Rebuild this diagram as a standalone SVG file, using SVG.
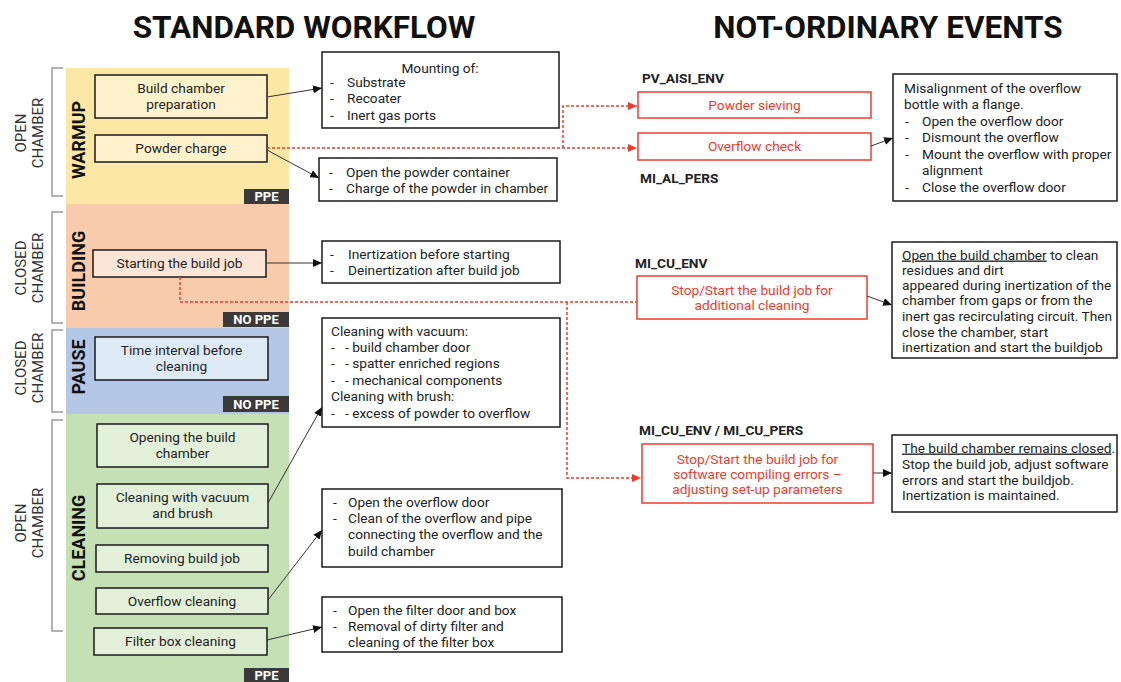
<svg xmlns="http://www.w3.org/2000/svg" width="1121" height="682" viewBox="0 0 1121 682">
<defs>
<style>
text{font-family:Roboto,"Liberation Sans",sans-serif;font-size:13.7px;fill:#222}
.c{text-anchor:middle}
.b{font-weight:bold}
.red{fill:#f03c2f}
.title{font-size:31.5px;font-weight:bold;fill:#111;text-anchor:middle}
.vl{font-size:18px;font-weight:bold;fill:#111;text-anchor:middle}
.side{font-size:15px;fill:#333;text-anchor:middle}
.badge{fill:#3a3a3a}
.bt{fill:#fff;font-weight:bold;text-anchor:middle;font-size:13px}
.box{fill:#fff;stroke:#1a1a1a;stroke-width:1.5}
.rbox{fill:#fff;stroke:#f03c2f;stroke-width:1.5}
.lb{stroke:#1a1a1a;stroke-width:1.5}
.brk{fill:none;stroke:#9a9a9a;stroke-width:1.5}
.conn{fill:none;stroke:#333;stroke-width:1;marker-end:url(#ah)}
.dash{fill:none;stroke:#f03c2f;stroke-width:1.5;stroke-dasharray:3 2}
.u{text-decoration:underline}
</style>
<marker id="ah" markerUnits="userSpaceOnUse" markerWidth="9" markerHeight="8" refX="9" refY="4" orient="auto"><path d="M0,0 L9,4 L0,8 z" fill="#111"/></marker>
<marker id="rah" markerUnits="userSpaceOnUse" markerWidth="9" markerHeight="8" refX="9" refY="4" orient="auto"><path d="M0,0 L9,4 L0,8 z" fill="#f03c2f"/></marker>
</defs>
<rect width="1121" height="682" fill="#fff"/>

<text class="title" x="304" y="38">STANDARD WORKFLOW</text>
<text class="title" x="888" y="38">NOT-ORDINARY EVENTS</text>

<!-- phases -->
<g id="phase-warmup">
<rect x="66" y="68" width="223" height="136" fill="#fde7a4"/>
<text class="vl" transform="translate(78,140) rotate(-90)" dominant-baseline="central">WARMUP</text>
<path class="brk" d="M63,68 H52 V196 H63"/>
<text class="side" transform="translate(21,133) rotate(-90)" dominant-baseline="central">OPEN</text>
<text class="side" transform="translate(38,133) rotate(-90)" dominant-baseline="central">CHAMBER</text>
<rect class="badge" x="244" y="189" width="45" height="15"/><text class="bt" x="266.5" y="201">PPE</text>
</g>
<g id="phase-building">
<rect x="66" y="204" width="223" height="124" fill="#f8cbad"/>
<text class="vl" transform="translate(78,271) rotate(-90)" dominant-baseline="central">BUILDING</text>
<path class="brk" d="M63,212 H52 V323 H63"/>
<text class="side" transform="translate(21,268) rotate(-90)" dominant-baseline="central">CLOSED</text>
<text class="side" transform="translate(38,268) rotate(-90)" dominant-baseline="central">CHAMBER</text>
<rect class="badge" x="223" y="312" width="66" height="15"/><text class="bt" x="256" y="324">NO PPE</text>
</g>
<g id="phase-pause">
<rect x="66" y="328" width="223" height="86" fill="#b4c7e7"/>
<text class="vl" transform="translate(78,367) rotate(-90)" dominant-baseline="central">PAUSE</text>
<path class="brk" d="M63,330 H52 V412 H63"/>
<text class="side" transform="translate(21,368) rotate(-90)" dominant-baseline="central">CLOSED</text>
<text class="side" transform="translate(38,368) rotate(-90)" dominant-baseline="central">CHAMBER</text>
<rect class="badge" x="223" y="396" width="66" height="16"/><text class="bt" x="256" y="408.5">NO PPE</text>
</g>
<g id="phase-cleaning">
<rect x="66" y="414" width="223" height="268" fill="#c5e0b4"/>
<text class="vl" transform="translate(78,538) rotate(-90)" dominant-baseline="central">CLEANING</text>
<path class="brk" d="M63,420 H52 V631 H63"/>
<text class="side" transform="translate(21,523) rotate(-90)" dominant-baseline="central">OPEN</text>
<text class="side" transform="translate(38,523) rotate(-90)" dominant-baseline="central">CHAMBER</text>
<rect class="badge" x="244" y="668" width="45" height="14"/><text class="bt" x="266.5" y="680">PPE</text>
</g>

<!-- left step nodes -->
<g id="n-build-prep"><rect class="lb" x="95" y="75" width="172" height="43" fill="#fff2cc"/><text class="c" x="181" y="92.5">Build chamber</text><text class="c" x="181" y="108.5">preparation</text></g>
<g id="n-powder-charge"><rect class="lb" x="95" y="135" width="172" height="27" fill="#fff2cc"/><text class="c" x="181" y="153">Powder charge</text></g>
<g id="n-start-build"><rect class="lb" x="93" y="250" width="173" height="27" fill="#fbe5d6"/><text class="c" x="179.5" y="268">Starting the build job</text></g>
<g id="n-time-interval"><rect class="lb" x="95" y="337" width="173" height="43" fill="#deebf7"/><text class="c" x="181.5" y="354.5">Time interval before</text><text class="c" x="181.5" y="370.5">cleaning</text></g>
<g id="n-opening"><rect class="lb" x="97" y="424" width="171" height="43" fill="#e2f0d9"/><text class="c" x="182.5" y="441.5">Opening the build</text><text class="c" x="182.5" y="457.5">chamber</text></g>
<g id="n-cleaning-vac"><rect class="lb" x="97" y="484" width="171" height="44" fill="#e2f0d9"/><text class="c" x="182.5" y="502">Cleaning with vacuum</text><text class="c" x="182.5" y="518">and brush</text></g>
<g id="n-removing"><rect class="lb" x="96" y="545" width="172" height="27" fill="#e2f0d9"/><text class="c" x="182" y="563">Removing build job</text></g>
<g id="n-overflow-clean"><rect class="lb" x="96" y="588" width="172" height="26" fill="#e2f0d9"/><text class="c" x="182" y="605.5">Overflow cleaning</text></g>
<g id="n-filter-clean"><rect class="lb" x="94" y="628" width="173" height="27" fill="#e2f0d9"/><text class="c" x="180.5" y="646">Filter box cleaning</text></g>

<!-- middle detail nodes -->
<g id="d-mounting"><rect class="box" x="322" y="52" width="237" height="76"/>
<text class="c" x="440" y="72.5">Mounting of:</text>
<text x="330" y="86.5">-</text><text x="347" y="86.5">Substrate</text>
<text x="330" y="103">-</text><text x="347" y="103">Recoater</text>
<text x="330" y="119.5">-</text><text x="347" y="119.5">Inert gas ports</text></g>
<g id="d-powder"><rect class="box" x="319" y="158" width="238" height="43"/>
<text x="329" y="176.5">-</text><text x="346" y="176.5">Open the powder container</text>
<text x="329" y="192.5">-</text><text x="346" y="192.5">Charge of the powder in chamber</text></g>
<g id="d-inert"><rect class="box" x="322" y="241" width="238" height="42"/>
<text x="330" y="258.5">-</text><text x="348" y="258.5">Inertization before starting</text>
<text x="330" y="274.5">-</text><text x="348" y="274.5">Deinertization after build job</text></g>
<g id="d-cleaning"><rect class="box" x="322" y="318" width="238" height="109"/>
<text x="331" y="335.5">Cleaning with vacuum:</text>
<text x="331" y="351.5">-</text><text x="345" y="351.5">- build chamber door</text>
<text x="331" y="368">-</text><text x="345" y="368">- spatter enriched regions</text>
<text x="331" y="384.5">-</text><text x="345" y="384.5">- mechanical components</text>
<text x="331" y="401">Cleaning with brush:</text>
<text x="331" y="417.5">-</text><text x="345" y="417.5">- excess of powder to overflow</text></g>
<g id="d-overflow"><rect class="box" x="322" y="489" width="240" height="78"/>
<text x="333" y="506.5">-</text><text x="348" y="506.5">Open the overflow door</text>
<text x="333" y="522.5">-</text><text x="348" y="522.5">Clean of the overflow and pipe</text>
<text x="348" y="539">connecting the overflow and the</text>
<text x="348" y="555.5">build chamber</text></g>
<g id="d-filter"><rect class="box" x="322" y="597" width="240" height="55"/>
<text x="333" y="615">-</text><text x="348" y="615">Open the filter door and box</text>
<text x="333" y="630.5">-</text><text x="348" y="630.5">Removal of dirty filter and</text>
<text x="348" y="646.5">cleaning of the filter box</text></g>

<!-- not-ordinary events -->
<g id="lbl-pv"><text class="b" x="642" y="82.5">PV_AISI_ENV</text></g>
<g id="e-sieving"><rect class="rbox" x="638" y="92" width="233" height="26"/><text class="c red" x="754.5" y="109.5">Powder sieving</text></g>
<g id="e-overflow-check"><rect class="rbox" x="638" y="133" width="233" height="27"/><text class="c red" x="754.5" y="151">Overflow check</text></g>
<g id="lbl-mial"><text class="b" x="640" y="182.5">MI_AL_PERS</text></g>
<g id="r-misalign"><rect class="box" x="893" y="74" width="224" height="127"/>
<text x="904" y="92.5">Misalignment of the overflow</text>
<text x="904" y="109">bottle with a flange.</text>
<text x="905" y="125.5">-</text><text x="922" y="125.5">Open the overflow door</text>
<text x="905" y="142">-</text><text x="922" y="142">Dismount the overflow</text>
<text x="905" y="158.5">-</text><text x="922" y="158.5">Mount the overflow with proper</text>
<text x="922" y="175">alignment</text>
<text x="905" y="191.5">-</text><text x="922" y="191.5">Close the overflow door</text></g>

<g id="lbl-micu"><text class="b" x="635" y="267.5">MI_CU_ENV</text></g>
<g id="e-stop-clean"><rect class="rbox" x="637" y="276" width="230" height="43"/><text class="c red" x="752" y="294.5">Stop/Start the build job for</text><text class="c red" x="752" y="310">additional cleaning</text></g>
<g id="r-open-chamber"><rect class="box" x="892" y="242" width="225" height="116"/>
<text x="902" y="259.5"><tspan class="u">Open the build chamber</tspan> to clean</text>
<text x="902" y="274.5">residues and dirt</text>
<text x="902" y="289.5">appeared during inertization of the</text>
<text x="902" y="304.5">chamber from gaps or from the</text>
<text x="902" y="321">inert gas recirculating circuit. Then</text>
<text x="902" y="336.5">close the chamber, start</text>
<text x="902" y="351.5">inertization and start the buildjob</text></g>

<g id="lbl-micu2"><text class="b" x="639" y="434.5">MI_CU_ENV / MI_CU_PERS</text></g>
<g id="e-stop-soft"><rect class="rbox" x="642" y="444" width="231" height="59"/><text class="c red" x="757.5" y="463.5">Stop/Start the build job for</text><text class="c red" x="757.5" y="478.5">software compiling errors –</text><text class="c red" x="757.5" y="494">adjusting set-up parameters</text></g>
<g id="r-closed"><rect class="box" x="892" y="435" width="225" height="77"/>
<text x="902" y="452.5"><tspan class="u">The build chamber remains closed</tspan>.</text>
<text x="902" y="468.5">Stop the build job, adjust software</text>
<text x="902" y="484.5">errors and start the buildjob.</text>
<text x="902" y="500">Inertization is maintained.</text></g>

<!-- connectors -->
<g id="connectors">
<path class="conn" d="M267,97 L322,88"/>
<path class="conn" d="M267,150 L319,178"/>
<path class="conn" d="M266,263 L322,263"/>
<path class="conn" d="M268,503 L322,407"/>
<path class="conn" d="M268,600 L322,530"/>
<path class="conn" d="M267,640 L322,627"/>
<path class="conn" d="M871,146 L893,138"/>
<path class="conn" d="M867,296 L892,305"/>
<path class="conn" d="M873,473 L892,473"/>
<path class="dash" d="M267,148 H637" marker-end="url(#rah)"/>
<path class="dash" d="M563,148 V106 H637" marker-end="url(#rah)"/>
<path class="dash" d="M180,277 V302 H637"/>
<path class="dash" d="M567,302 V478 H641" marker-end="url(#rah)"/>
</g>
</svg>
